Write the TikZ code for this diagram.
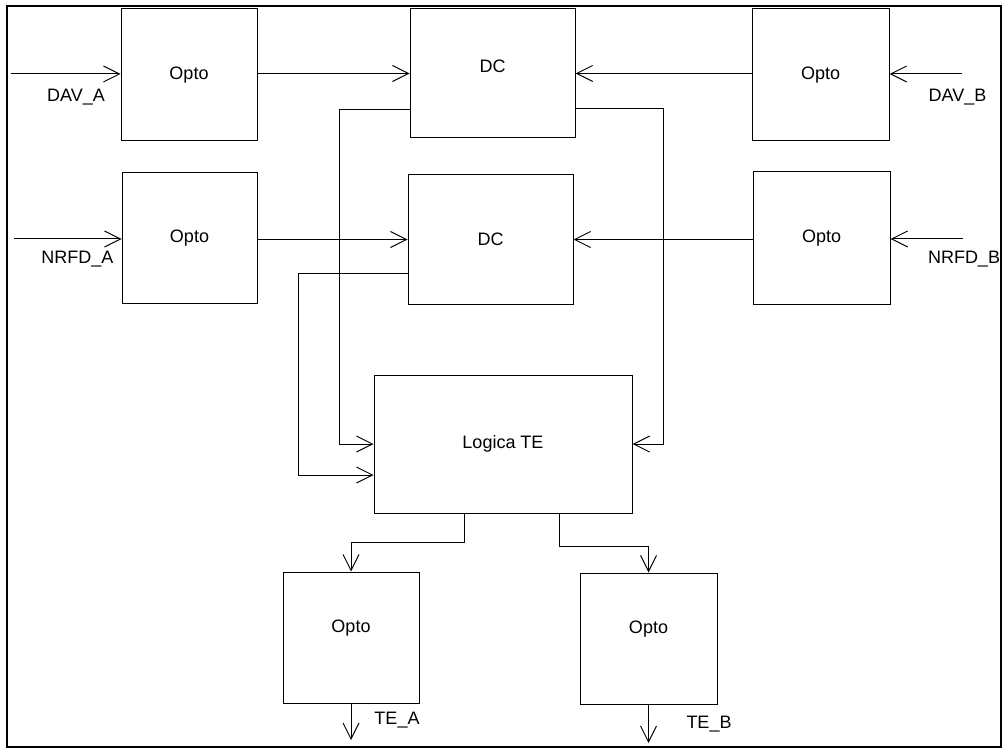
\documentclass[tikz,border=0pt]{standalone}
\usepackage{fontspec}
\setmainfont{Liberation Sans}
\usetikzlibrary{arrows.meta}
\begin{document}
\begin{tikzpicture}[x=1pt,y=-1pt,
  box/.style={draw, line width=1pt, inner sep=0pt, font=\fontsize{18}{22}\selectfont},
  lbl/.style={inner sep=0pt, font=\fontsize{18}{22}\selectfont},
  arr/.style={line width=1pt, -{Straight Barb[length=16pt,width=16pt,line width=1pt]}}]
\useasboundingbox (0,0) rectangle (1003,751);
\draw[line width=2.2pt] (7,6) rectangle (1001,747);
% boxes
\node[box, minimum width=136pt, minimum height=132pt] (oa1) at (189,75) {Opto};
\node[box, minimum width=135pt, minimum height=130pt] (oa2) at (189.5,238) {Opto};
\node[box, minimum width=165pt, minimum height=129pt, text depth=14pt] (dc1) at (492.5,73.5) {DC};
\node[box, minimum width=165pt, minimum height=129pt] (dc2) at (490.5,239.5) {DC};
\node[box, minimum width=137pt, minimum height=132pt] (ob1) at (820.5,75) {Opto};
\node[box, minimum width=137pt, minimum height=132pt] (ob2) at (821.5,238) {Opto};
\node[box, minimum width=258pt, minimum height=138pt] (lte) at (503,444) {Logica TE};
\node[box, minimum width=136pt, minimum height=131pt, text depth=22pt] (ota) at (351,637.5) {Opto};
\node[box, minimum width=137pt, minimum height=131pt, text depth=22pt] (otb) at (648.5,638.5) {Opto};
% free ends
\coordinate (ina) at (11,74);
\coordinate (inna) at (14,239);
\coordinate (inb) at (962,74);
\coordinate (innb) at (963,239);
\coordinate (tea) at (351,740);
\coordinate (teb) at (648.5,743);
% connectors
\draw[arr] (ina) -- (ina -| oa1.west);
\draw[arr] (inna) -- (inna -| oa2.west);
\draw[arr] (inb) -- (inb -| ob1.east);
\draw[arr] (innb) -- (innb -| ob2.east);
\draw[arr] (oa1.east |- dc1.west) -- (dc1.west);
\draw[arr] (ob1.west |- dc1.east) -- (dc1.east);
\draw[arr] (oa2.east |- dc2.west) -- (dc2.west);
\draw[arr] (ob2.west |- dc2.east) -- (dc2.east);
\draw[arr] ([yshift=-36.5pt]dc1.west) -- ++(-70,0) |- (lte.west);
\draw[arr] ([yshift=-33.5pt]dc2.west) -- ++(-109,0) |- ([yshift=-31pt]lte.west);
\draw[arr] ([yshift=-35.5pt]dc1.east) -- ++(88,0) |- (lte.east);
\draw[arr] ([xshift=-39pt]lte.south) -- ++(0,29) -| (ota.north);
\draw[arr] ([xshift=56pt]lte.south) -- ++(0,33) -| (otb.north);
\draw[arr] (ota.south) -- (tea);
\draw[arr] (otb.south) -- (teb);
% labels
\node[lbl] (ldava) at (76,97) {DAV\_A};
\node[lbl] (lnrfda) at (77.5,259) {NRFD\_A};
\node[lbl] (ldavb) at (957.5,97) {DAV\_B};
\node[lbl] (lnrfdb) at (964,259) {NRFD\_B};
\node[lbl] (ltea) at (397,720) {TE\_A};
\node[lbl] (lteb) at (709,724) {TE\_B};
\end{tikzpicture}
\end{document}
